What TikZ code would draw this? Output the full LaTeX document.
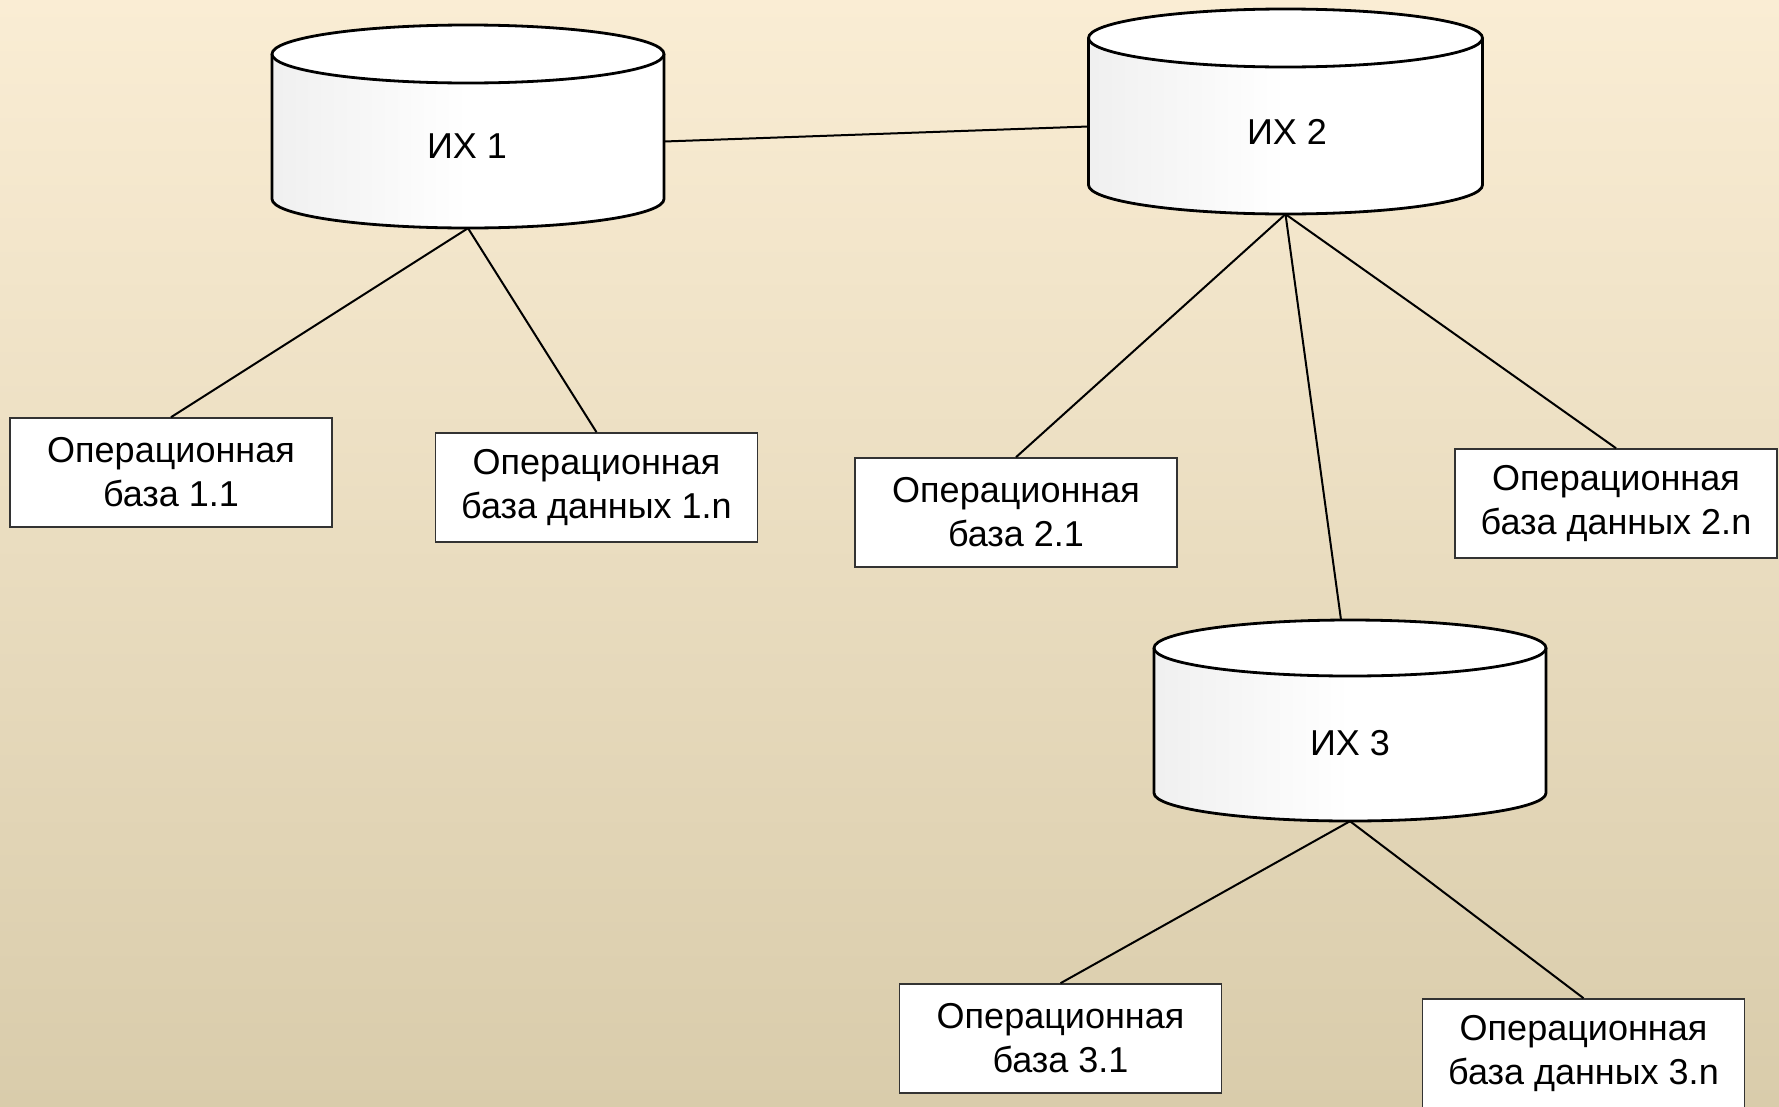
\documentclass[tikz,border=0pt]{standalone}
\usepackage{fontspec}
\setmainfont{Liberation Sans}
\usetikzlibrary{calc}

\definecolor{bgtop}{RGB}{250,237,212}
\definecolor{bgmid}{RGB}{239,227,197}
\definecolor{bgbot}{RGB}{217,204,171}

\tikzset{
  opbox/.style={draw=black!80, line width=1.6pt, fill=white, inner sep=0pt,
    minimum width=322pt, minimum height=109pt, align=center,
    font=\fontsize{36}{44}\selectfont},
  cyllabel/.style={inner sep=0pt, font=\fontsize{36}{42}\selectfont},
  link/.style={line width=2pt, black},
  cylline/.style={draw=black, line width=2.8pt}
}

% database drum: #1 name, #2 centre x, #3 top rim y, #4 bottom rim y,
% #5 half width, #6 rim half height
\newcommand\dbdrum[6]{%
  \path[left color=black!6, right color=white, middle color=white]
    ({#2-#5},#3) -- ({#2-#5},#4)
    arc[start angle=180, end angle=360, x radius=#5pt, y radius=#6pt]
    -- ({#2+#5},#3)
    arc[start angle=0, end angle=-180, x radius=#5pt, y radius=#6pt] -- cycle;
  \draw[cylline, line join=round]
    ({#2-#5},#3) -- ({#2-#5},#4)
    arc[start angle=180, end angle=360, x radius=#5pt, y radius=#6pt]
    -- ({#2+#5},#3);
  \draw[cylline, fill=white] (#2,#3) ellipse[x radius=#5pt, y radius=#6pt];
  \node[inner sep=0pt, minimum width=2*#5 pt, minimum height={#4-#3+2*#6 pt}]
    (#1) at (#2,{(#3+#4)/2}) {};
}

\begin{document}
\begin{tikzpicture}[x=1pt, y=-1pt]
  \useasboundingbox (0,0) rectangle (1779,1106);
  \shade[top color=bgtop, middle color=bgmid, bottom color=bgbot]
    (0,0) rectangle (1779,1106);

  % warehouses
  \dbdrum{ix1}{468}{54}{199}{196}{29}
  \dbdrum{ix2}{1285.5}{38}{185}{197}{29}
  \dbdrum{ix3}{1350}{648}{793}{196}{28}
  \node[cyllabel] (ix1t) at (467,146) {ИХ 1};
  \node[cyllabel] (ix2t) at (1287,132) {ИХ 2};
  \node[cyllabel] (ix3t) at (1350,743) {ИХ 3};

  % operational databases
  \node[opbox] (b11) at (171,472.5) {Операционная\\база 1.1};
  \node[opbox] (b1n) at (596.5,487.5) {Операционная\\база данных 1.n};
  \node[opbox] (b21) at (1016,512.5) {Операционная\\база 2.1};
  \node[opbox] (b2n) at (1616,503.5) {Операционная\\база данных 2.n};
  \node[opbox] (b31) at (1060.5,1038.5) {Операционная\\база 3.1};
  \node[opbox] (b3n) at (1583.5,1053.5) {Операционная\\база данных 3.n};

  % links
  \draw[link] ([yshift=-15pt]ix1.east) -- ([yshift=-15pt]ix2.west);
  \draw[link] (ix1.south) -- (b11.north);
  \draw[link] (ix1.south) -- (b1n.north);
  \draw[link] (ix2.south) -- (b21.north);
  \draw[link] (ix2.south) -- ([xshift=-9pt]ix3.north);
  \draw[link] (ix2.south) -- (b2n.north);
  \draw[link] (ix3.south) -- (b31.north);
  \draw[link] (ix3.south) -- (b3n.north);
\end{tikzpicture}
\end{document}
